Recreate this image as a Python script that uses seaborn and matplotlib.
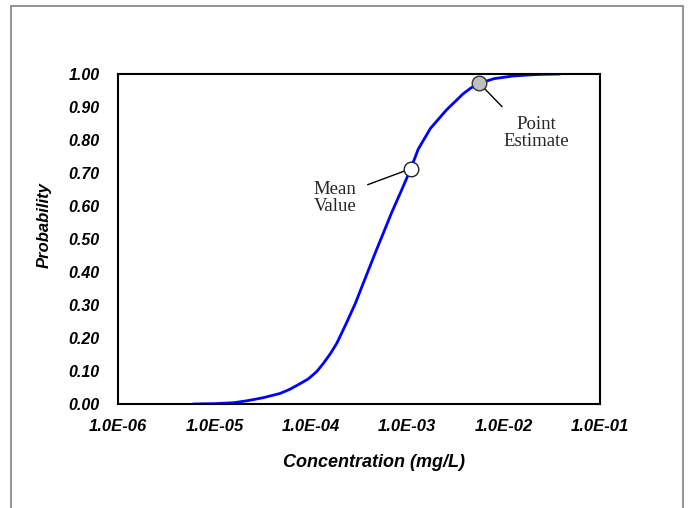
import matplotlib
matplotlib.use("Agg")
import matplotlib.pyplot as plt
import matplotlib.ticker as mticker
from matplotlib.patches import Rectangle
import seaborn as sns
import pandas as pd

# ---- data ----
concentration = [6.0e-6, 1.0e-5, 1.6e-5, 2.2e-5, 3.2e-5, 4.8e-5, 6.1e-5, 8.0e-5, 9.4e-5,
                 1.15e-4, 1.35e-4, 1.6e-4, 1.86e-4, 2.34e-4, 2.9e-4, 3.5e-4, 4.8e-4,
                 6.9e-4, 8.8e-4, 1.09e-3, 1.3e-3, 1.74e-3, 2.57e-3, 3.26e-3, 3.8e-3,
                 4.6e-3, 5.6e-3, 8.0e-3, 1.26e-2, 1.8e-2, 2.5e-2, 3.85e-2]
probability = [0.000, 0.001, 0.004, 0.010, 0.019, 0.032, 0.045, 0.064, 0.076,
               0.098, 0.123, 0.153, 0.184, 0.245, 0.305, 0.366, 0.467,
               0.580, 0.650, 0.713, 0.772, 0.835, 0.892, 0.921, 0.940,
               0.958, 0.972, 0.986, 0.994, 0.997, 0.999, 1.000]

mean_value = (1.09e-3, 0.713)
point_estimate = (5.6e-3, 0.972)

x_ticks = [1e-6, 1e-5, 1e-4, 1e-3, 1e-2, 1e-1]
y_ticks = [0.0, 0.1, 0.2, 0.3, 0.4, 0.5, 0.6, 0.7, 0.8, 0.9, 1.0]

x_label = "Concentration (mg/L)"
y_label = "Probability"

df = pd.DataFrame({"conc": concentration, "prob": probability})

sns.set_theme(style="white")
plt.rcParams["font.family"] = ["Liberation Sans", "DejaVu Sans"]

fig = plt.figure(figsize=(6.9, 5.08), dpi=100)
ax = fig.add_axes([118/690, 1 - 404/508, (600-118)/690, (404-74)/508])
ax.set_xscale("log")

sns.lineplot(data=df, x="conc", y="prob", ax=ax, color="#0000ff", linewidth=2.0,
             sort=True, zorder=2)

sns.scatterplot(x=[mean_value[0]], y=[mean_value[1]], ax=ax, s=110,
                color="white", edgecolor="#222222", linewidth=1.0, zorder=3)
sns.scatterplot(x=[point_estimate[0]], y=[point_estimate[1]], ax=ax, s=110,
                color="#bfbfbf", edgecolor="#333333", linewidth=1.0, zorder=3)

ax.set_xlim(x_ticks[0], x_ticks[-1])
ax.set_ylim(y_ticks[0], y_ticks[-1])
ax.set_xticks(x_ticks)
ax.set_yticks(y_ticks)
ax.xaxis.set_minor_locator(mticker.NullLocator())
ax.xaxis.set_major_formatter(mticker.FuncFormatter(lambda v, p: f"{v:.1E}"))
ax.yaxis.set_major_formatter(mticker.FuncFormatter(lambda v, p: f"{v:.2f}"))

for lab in ax.get_xticklabels():
    lab.set_fontsize(12)
    lab.set_fontweight("bold")
    lab.set_fontstyle("italic")
for lab in ax.get_yticklabels():
    lab.set_fontsize(11.5)
    lab.set_fontweight("bold")
    lab.set_fontstyle("italic")
ax.tick_params(axis="both", length=0, colors="black")
ax.tick_params(axis="y", pad=13)
ax.tick_params(axis="x", pad=11)

for sp in ax.spines.values():
    sp.set_visible(True)
    sp.set_color("black")
    sp.set_linewidth(1.5)

ax.set_xlabel(x_label, fontsize=13, fontweight="bold", fontstyle="italic", color="black")
ax.set_ylabel(y_label, fontsize=12, fontweight="bold", fontstyle="italic", color="black")
ax.xaxis.set_label_coords((374-118)/482, (404-454)/330)
ax.yaxis.set_label_coords((52-118)/482, (404-225)/330)

serif = ["Liberation Serif", "DejaVu Serif"]
ax.annotate("Mean\nValue", xy=mean_value, xytext=(-54.5, -21.1), textcoords="offset points",
            ha="center", va="center", fontsize=13.5, family=serif, linespacing=1.0,
            arrowprops=dict(arrowstyle="-", color="black", lw=1.0, shrinkA=6, shrinkB=5,
                            relpos=(1.0, 0.77)), zorder=1)
ax.annotate("Point\nEstimate", xy=point_estimate, xytext=(40.8, -35.8), textcoords="offset points",
            ha="center", va="center", fontsize=13.5, family=serif, linespacing=1.0,
            arrowprops=dict(arrowstyle="-", color="black", lw=1.0, shrinkA=6, shrinkB=5,
                            relpos=(0.12, 1.0)), zorder=1)

# outer chart-area border (open at the bottom like the reference crop)
border = Rectangle((10.5/690, -0.05), (682.5-10.5)/690, 1.05 - 5.5/508,
                   transform=fig.transFigure, fill=False, edgecolor="#7f7f7f",
                   linewidth=1.2, clip_on=False)
fig.patches.append(border)

fig.savefig("out.png", dpi=100)
